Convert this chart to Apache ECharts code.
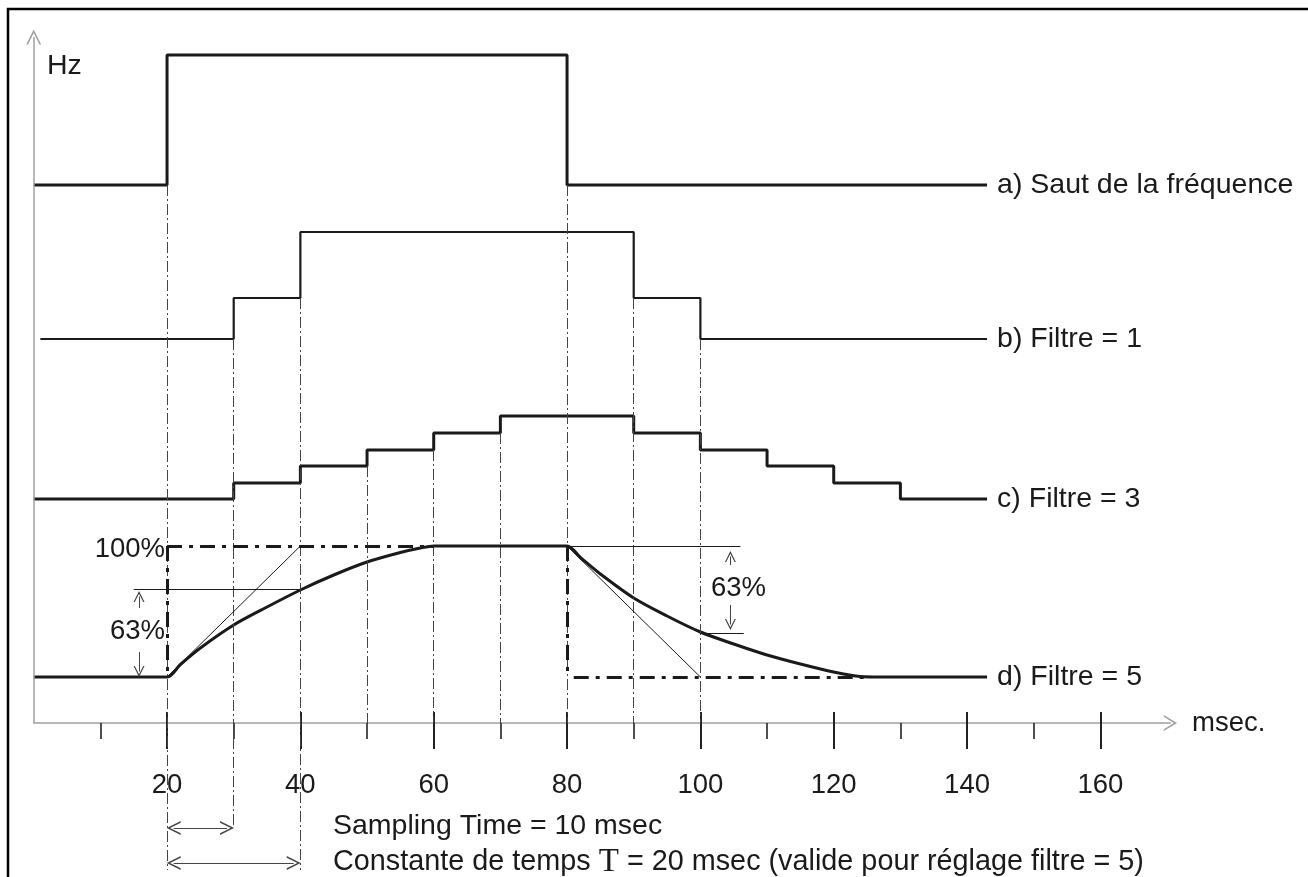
<!DOCTYPE html>
<html>
<head>
<meta charset="utf-8">
<script src="https://cdn.jsdelivr.net/npm/echarts@6/dist/echarts.min.js"></script>
<style>
html, body { margin: 0; padding: 0; background: #fff; }
#chart { width: 1308px; height: 877px; }
</style>
</head>
<body>
<div id="chart"></div>
<script>
// time in msec, level in arbitrary units (0 = time axis)
const jumpT = [0, 20, 80, 143];
const jumpY = [538, 668, 538, 538];
const filt1T = [1, 30, 40, 90, 100, 143];
const filt1Y = [384, 425, 491, 425, 384, 384];
const filt3T = [0, 30, 40, 50, 60, 70, 90, 100, 110, 120, 130, 143];
const filt3Y = [224, 240, 257, 273, 290, 307, 290, 273, 257, 240, 224, 224];
const filt5T = [0, 20, 22, 25, 30, 35, 40, 45, 50, 55, 58, 60, 80, 82, 85, 90, 95, 100, 105, 110, 115, 120, 124, 127, 143];
const filt5Y = [46, 46, 58.5, 75, 98, 116, 133, 148, 161, 170.5, 175, 177, 177, 165.5, 149, 125, 107, 91, 79, 68, 59, 51, 46.5, 46, 46];
const names = ['a) Saut de la fréquence', 'b) Filtre = 1', 'c) Filtre = 3', 'd) Filtre = 5'];

const majorTicks = [20, 40, 60, 80, 100, 120, 140, 160];
const minorTicks = [10, 30, 50, 70, 90, 110, 130, 150];

// sampling guide lines
const guideT = [20, 30, 40, 50, 60, 70, 80, 90, 100];
const guideTop = [538, 384, 425, 257, 273, 290, 538, 425, 384];
const guideBottom = [-147, -104, -147, 0, 0, 0, 0, 0, 0];

// [t1, v1, t2, v2]
const levelLines = [[20, 177, 60, 177], [20, 177, 20, 46], [80, 177, 80, 46], [81, 46, 125, 46]];
const thinLines = [[20, 46, 40, 177], [80, 177, 100, 46], [15, 134, 40, 134], [80, 177, 106, 177], [100, 90, 106.5, 90]];
const arrowLines = [[15.8, 115, 15.8, 126.5], [15.8, 71, 15.8, 51.5], [104.5, 158, 104.5, 166.5], [104.5, 118, 104.5, 98.5]];
const spanArrows = [[21, -105, 29, -105], [21, -140, 39, -140]];
const hzAxis = [[0, 0, 0, 686]];

const FONT = '"Liberation Sans", Arial, sans-serif';
const chevron = 'path://M0,10 L6,0 L12,10 L10.6,10 L6,2.4 L1.4,10 Z';

const pairs = (ts, vs) => ts.map((t, i) => [t, vs[i]]);
const segs = list => list.map(s => [{ coord: [s[0], s[1]] }, { coord: [s[2], s[3]] }]);
const guideSegs = guideT.map((t, i) => [t, guideTop[i], t, guideBottom[i]]);

function marker(list, lineStyle, symbol, size) {
    return {
        type: 'line',
        data: [],
        silent: true,
        markLine: {
            silent: true,
            animation: false,
            symbol: symbol || ['none', 'none'],
            symbolSize: size || 12,
            label: { show: false },
            emphasis: { disabled: true },
            lineStyle: lineStyle,
            data: segs(list)
        }
    };
}

function endLabel(name) {
    return { show: true, formatter: name, color: '#1a1a1a', fontSize: 28.5, fontFamily: FONT, distance: 10 };
}

function stepSeries(name, ts, vs, width) {
    return {
        name: name,
        type: 'line',
        step: 'end',
        showSymbol: false,
        symbol: 'none',
        lineStyle: { color: '#1a1a1a', width: width },
        endLabel: endLabel(name),
        data: pairs(ts, vs)
    };
}

function tickAxis(ticks, inside, length, width) {
    return {
        type: 'value', min: 0, max: 170.5, position: 'bottom',
        axisLine: { show: false, onZero: true, onZeroAxisIndex: 0 },
        axisTick: { customValues: ticks, inside: inside, length: length, lineStyle: { color: '#222', width: width } },
        axisLabel: { show: false },
        splitLine: { show: false }
    };
}

const myChart = echarts.init(document.getElementById('chart'));
const option = {
    animation: false,
    backgroundColor: '#fff',
    grid: { left: 33.7, top: 30, width: 1136.7, height: 847, outerBoundsMode: 'none' },
    xAxis: [{
        type: 'value', min: 0, max: 170.5, position: 'bottom',
        axisLine: { onZero: true, onZeroAxisIndex: 0, lineStyle: { color: '#a0a0a0', width: 1.5 }, symbol: ['none', chevron], symbolSize: [16, 14] },
        axisTick: { customValues: majorTicks, length: 26, lineStyle: { color: '#222', width: 2 } },
        axisLabel: { show: false },
        splitLine: { show: false }
    },
        tickAxis(majorTicks, true, 11, 2),
        tickAxis(minorTicks, false, 16, 1.6),
    {
        // tick labels, hung from the bottom edge of the grid
        type: 'value', min: 0, max: 170.5, position: 'bottom',
        axisLine: { show: false, onZero: false },
        axisTick: { show: false },
        axisLabel: {
            customValues: majorTicks, inside: true, margin: 78,
            color: '#1a1a1a', fontSize: 27.5, fontFamily: FONT
        },
        splitLine: { show: false }
    }],
    yAxis: { type: 'value', min: -154, max: 693, show: false },
    series: [
        marker(guideSegs, { color: '#444', width: 1, type: [11, 3, 2, 3] }),
        marker(hzAxis, { color: '#a0a0a0', width: 1.5, type: 'solid' }, ['none', chevron], 15),
        marker(levelLines, { color: '#1a1a1a', width: 3, type: [15, 7, 4, 7] }),
        marker(thinLines, { color: '#1a1a1a', width: 1, type: 'solid' }),
        marker(arrowLines, { color: '#444', width: 1, type: 'solid' }, ['none', chevron], 11),
        marker(spanArrows, { color: '#444', width: 1, type: 'solid' }, [chevron, chevron], 14),
        stepSeries(names[0], jumpT, jumpY, 3),
        stepSeries(names[1], filt1T, filt1Y, 2.2),
        stepSeries(names[2], filt3T, filt3Y, 3),
        {
            name: names[3],
            type: 'line',
            smooth: 0.3,
            showSymbol: false,
            symbol: 'none',
            lineStyle: { color: '#1a1a1a', width: 3 },
            endLabel: endLabel(names[3]),
            data: pairs(filt5T, filt5Y)
        }
    ],
    graphic: [
        { type: 'rect', silent: true, shape: { x: 8, y: 9, width: 1400, height: 1000 }, style: { fill: 'none', stroke: '#000', lineWidth: 2.5 } },
        { type: 'text', silent: true, style: { text: 'Hz', x: 47, y: 66, fill: '#1a1a1a', font: '28.5px ' + FONT, align: 'left', verticalAlign: 'middle' } },
        { type: 'text', silent: true, style: { text: '100%', x: 165, y: 549, fill: '#1a1a1a', font: '27.5px ' + FONT, align: 'right', verticalAlign: 'middle' } },
        { type: 'text', silent: true, style: { text: '63%', x: 165, y: 631, fill: '#1a1a1a', font: '27.5px ' + FONT, align: 'right', verticalAlign: 'middle' } },
        { type: 'text', silent: true, style: { text: '63%', x: 711, y: 588, fill: '#1a1a1a', font: '27.5px ' + FONT, align: 'left', verticalAlign: 'middle' } },
        { type: 'text', silent: true, style: { text: 'msec.', x: 1192, y: 723, fill: '#1a1a1a', font: '27.5px ' + FONT, align: 'left', verticalAlign: 'middle' } },
        { type: 'text', silent: true, style: { text: 'Sampling Time = 10 msec', x: 333, y: 826, fill: '#1a1a1a', font: '28.5px ' + FONT, align: 'left', verticalAlign: 'middle' } },
        {
            type: 'text', silent: true,
            style: {
                text: '{a|Constante de temps }{t|T}{a| = 20 msec (valide pour réglage filtre = 5)}',
                x: 333, y: 862, align: 'left', verticalAlign: 'middle',
                rich: {
                    a: { fill: '#1a1a1a', font: '28.8px ' + FONT },
                    t: { fill: '#1a1a1a', font: '33px "Liberation Serif", "Times New Roman", serif' }
                }
            }
        }
    ]
};
myChart.setOption(option);

window.addEventListener('resize', function () {
    myChart.resize();
});
</script>
</body>
</html>
